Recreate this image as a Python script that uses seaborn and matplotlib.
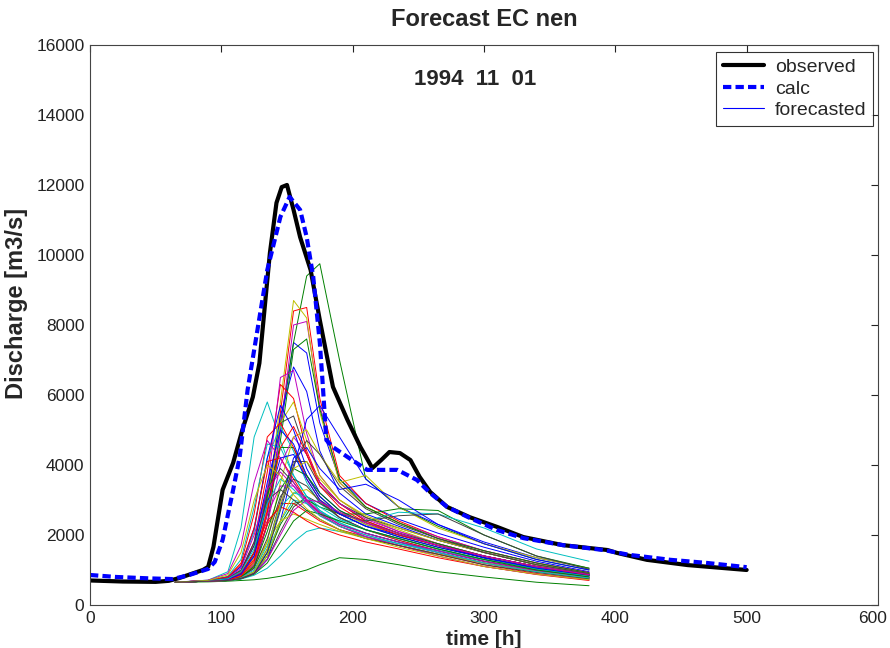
import numpy as np
import pandas as pd
import seaborn as sns
import matplotlib.pyplot as plt
from matplotlib.lines import Line2D
from matplotlib.transforms import ScaledTranslation

# observed discharge
obs_time = [0, 25, 50, 60, 68, 86, 90, 94, 101, 109, 116, 124, 129, 137, 142, 146, 150,
            155, 160, 168, 175, 185, 196, 206, 215, 222, 228, 236, 244, 251, 259, 272,
            289, 310, 330, 360, 394, 401, 424, 455, 500]
obs_flow = [700, 670, 660, 690, 770, 1000, 1090, 1660, 3290, 4060, 5000, 5940, 6910, 10060,
            11490, 11940, 12000, 11290, 10510, 9570, 8140, 6230, 5290, 4510, 3910, 4150,
            4370, 4340, 4140, 3660, 3230, 2800, 2510, 2230, 1940, 1710, 1570, 1490, 1290,
            1140, 1000]

# calculated discharge
calc_time = [0, 20, 45, 63, 75, 90, 95, 101, 109, 114, 120, 135, 145, 152, 160, 165, 170,
             175, 177, 180, 185, 196, 211, 234, 249, 259, 272, 289, 310, 330, 360, 391,
             411, 442, 470, 500]
calc_flow = [857, 800, 760, 740, 850, 1030, 1230, 1860, 3290, 4230, 6140, 9570, 11090,
             11660, 11290, 10510, 9370, 7490, 6430, 4710, 4510, 4230, 3860, 3860, 3570,
             3200, 2800, 2490, 2140, 1910, 1710, 1570, 1430, 1290, 1200, 1080]

# ensemble forecasts, all on the same time steps
fc_time = [65, 90, 105, 115, 125, 135, 145, 155, 165, 175, 190, 210, 235, 265, 300, 340, 380]

members_blue = [
    [650, 680, 720, 820, 1200, 2600, 5000, 7500, 7200, 5200, 3600, 2900, 2450, 2050, 1650, 1250, 950],
    [650, 680, 720, 850, 1400, 3000, 5400, 6800, 6100, 4400, 3200, 2600, 2250, 1850, 1500, 1150, 900],
    [650, 680, 700, 750, 900, 1300, 2400, 3900, 5300, 5700, 4800, 3600, 2800, 2300, 1800, 1350, 1050],
    [650, 700, 800, 1100, 2200, 4200, 5700, 5000, 3900, 3200, 2700, 2300, 2000, 1700, 1350, 1050, 850],
    [650, 680, 700, 760, 900, 1500, 2800, 4200, 4500, 3900, 3300, 3450, 3000, 2300, 1750, 1300, 1000],
    [650, 690, 750, 950, 1700, 3500, 5000, 4600, 3700, 3100, 2600, 2250, 1950, 1650, 1350, 1050, 850],
    [650, 680, 730, 880, 1400, 2900, 4200, 4300, 3600, 3000, 2600, 2250, 2000, 1700, 1400, 1100, 870],
]
members_green = [
    [650, 680, 700, 780, 1500, 3200, 5200, 7500, 9400, 9750, 7000, 3600, 2800, 2250, 1750, 1300, 1000],
    [650, 680, 700, 780, 1100, 2300, 4700, 7300, 7600, 5600, 3600, 2800, 2350, 1900, 1550, 1200, 920],
    [650, 680, 740, 900, 1500, 3100, 4500, 4500, 3700, 3100, 2600, 2250, 1950, 1650, 1350, 1050, 850],
    [650, 680, 700, 750, 900, 1400, 2300, 2900, 3000, 2800, 2600, 2600, 2750, 2700, 2000, 1400, 1050],
    [650, 660, 680, 700, 720, 760, 820, 900, 1000, 1150, 1350, 1300, 1150, 950, 800, 650, 550],
    [650, 680, 700, 800, 1100, 2100, 3300, 3900, 3700, 3200, 2700, 2350, 2050, 1750, 1400, 1100, 860],
    [650, 680, 700, 750, 880, 1200, 1800, 2400, 2700, 2600, 2400, 2150, 1900, 1600, 1300, 1000, 800],
]
members_red = [
    [650, 680, 700, 800, 1150, 2600, 5500, 8400, 8500, 5900, 3700, 2900, 2400, 1950, 1550, 1200, 920],
    [650, 690, 750, 950, 1800, 3800, 6300, 5900, 4400, 3500, 2900, 2400, 2050, 1700, 1350, 1050, 840],
    [650, 700, 800, 1200, 2600, 4800, 5200, 4500, 3600, 3000, 2500, 2150, 1850, 1550, 1250, 1000, 800],
    [650, 680, 720, 860, 1300, 2300, 2900, 2900, 2650, 2400, 2150, 1950, 1700, 1450, 1200, 950, 760],
    [650, 700, 800, 1150, 2200, 4100, 4200, 3600, 3000, 2600, 2250, 1950, 1700, 1450, 1150, 900, 730],
    [650, 690, 750, 920, 1500, 2400, 2800, 2650, 2400, 2200, 2000, 1800, 1600, 1350, 1100, 870, 700],
    [650, 680, 710, 820, 1250, 2700, 4500, 5100, 4300, 3400, 2800, 2350, 2000, 1700, 1400, 1100, 860],
]
members_cyan = [
    [650, 710, 950, 2200, 4800, 5800, 4700, 3700, 3100, 2700, 2350, 2050, 1800, 1500, 1200, 950, 780],
    [650, 690, 780, 1100, 2100, 4200, 5100, 4400, 3500, 2900, 2500, 2150, 1850, 1550, 1250, 1000, 800],
    [650, 700, 820, 1300, 2800, 4600, 4500, 3700, 3100, 2700, 2350, 2050, 1800, 1500, 1200, 960, 780],
    [650, 680, 700, 760, 950, 1500, 2400, 3000, 2900, 2650, 2400, 2400, 2650, 2600, 2200, 1600, 1250],
    [650, 680, 700, 740, 850, 1050, 1400, 1800, 2100, 2200, 2100, 1950, 1750, 1550, 1300, 1050, 860],
    [650, 680, 700, 780, 1000, 1700, 2800, 3200, 3100, 2800, 2450, 2150, 1900, 1600, 1300, 1020, 820],
    [650, 690, 750, 950, 1600, 2900, 3600, 3300, 2900, 2550, 2250, 2000, 1750, 1500, 1200, 950, 770],
]
members_magenta = [
    [650, 680, 700, 780, 1050, 2300, 5000, 8000, 8100, 5700, 3500, 2800, 2350, 1950, 1550, 1200, 930],
    [650, 690, 740, 900, 1500, 3300, 6500, 6700, 4900, 3700, 3000, 2500, 2100, 1750, 1400, 1080, 860],
    [650, 680, 710, 800, 1150, 2300, 4000, 4800, 4300, 3500, 2900, 2450, 2100, 1750, 1400, 1100, 870],
    [650, 700, 780, 1050, 2000, 3300, 3800, 3400, 2900, 2550, 2250, 2000, 1750, 1500, 1200, 950, 760],
    [650, 680, 730, 880, 1400, 2600, 3400, 3400, 3000, 2650, 2300, 2050, 1800, 1550, 1250, 980, 790],
    [650, 710, 900, 1700, 3500, 4700, 4200, 3500, 2950, 2600, 2250, 1950, 1700, 1400, 1100, 880, 720],
    [650, 680, 700, 760, 900, 1300, 2000, 2700, 3000, 2950, 2650, 2350, 2050, 1700, 1400, 1100, 870],
]
members_yellow = [
    [650, 680, 710, 820, 1200, 2800, 5800, 8700, 8200, 5500, 3500, 2800, 2350, 1900, 1500, 1150, 900],
    [650, 680, 730, 850, 1350, 2900, 5200, 5800, 4700, 3700, 3000, 2500, 2150, 1750, 1400, 1100, 870],
    [650, 680, 700, 760, 950, 1800, 3500, 4800, 5000, 4300, 3500, 3700, 2800, 2200, 1750, 1350, 1050],
    [650, 680, 700, 760, 900, 1400, 2400, 3200, 3300, 3000, 2650, 2300, 2000, 1700, 1400, 1100, 860],
    [650, 680, 700, 820, 1100, 1800, 2400, 2600, 2450, 2300, 2100, 1900, 1700, 1450, 1200, 950, 770],
    [650, 680, 700, 760, 950, 1600, 2900, 3900, 4100, 3600, 3000, 2550, 2200, 1850, 1500, 1150, 900],
    [650, 700, 860, 1500, 3000, 4000, 3700, 3150, 2750, 2450, 2150, 1900, 1650, 1400, 1100, 880, 720],
]
members_grey = [
    [650, 680, 730, 880, 1500, 3200, 5200, 5400, 4300, 3500, 2900, 2400, 2050, 1700, 1350, 1050, 840],
    [650, 680, 700, 760, 950, 1600, 3000, 4100, 4100, 3400, 2900, 2500, 2200, 1850, 1500, 1150, 900],
    [650, 700, 780, 1000, 1800, 3300, 3900, 3500, 3000, 2650, 2300, 2050, 1800, 1550, 1250, 980, 790],
    [650, 680, 700, 760, 900, 1300, 2100, 2800, 3100, 2900, 2600, 2400, 2550, 2600, 2000, 1400, 1020],
    [650, 680, 700, 800, 1050, 1900, 3100, 3600, 3400, 2950, 2500, 2150, 1900, 1600, 1300, 1030, 830],
    [650, 690, 760, 980, 1700, 3000, 3300, 3000, 2700, 2450, 2150, 1900, 1700, 1450, 1150, 930, 750],
    [650, 680, 700, 760, 900, 1500, 2700, 4000, 4700, 4300, 3400, 2750, 2300, 1900, 1500, 1150, 900],
]

# old matlab colour order
groups = [members_blue, members_green, members_red, members_cyan,
          members_magenta, members_yellow, members_grey]
group_colors = ['#0000ff', '#008000', '#ff0000', '#00bfbf', '#bf00bf', '#bfbf00', '#404040']

rows = []
palette = {}
for i in range(len(members_blue)):
    for members, col in zip(groups, group_colors):
        name = 'm%02d' % len(palette)
        palette[name] = col
        for t, q in zip(fc_time, members[i]):
            rows.append((name, t, q))
fc = pd.DataFrame(rows, columns=['member', 'time', 'flow'])

sns.set_style('white')
plt.rcParams['font.family'] = ['Liberation Sans', 'DejaVu Sans']

fig = plt.figure(figsize=(8.9, 6.48), dpi=100)
ax = fig.add_axes([0.1011, 0.0664, 0.8854, 0.8642])

sns.lineplot(data=fc, x='time', y='flow', hue='member', palette=palette,
             estimator=None, sort=False, legend=False, lw=0.7, ax=ax)
sns.lineplot(x=obs_time, y=obs_flow, color='black', lw=3, estimator=None, sort=False, ax=ax)
sns.lineplot(x=calc_time, y=calc_flow, color='#0000ff', lw=3, estimator=None, sort=False, ax=ax)
ax.lines[-1].set_linestyle((0, (2, 1)))

ax.set_xlim(0, 600)
ax.set_ylim(0, 16000)
ax.set_xticks(range(0, 601, 100))
ax.set_yticks(range(0, 16001, 2000))
ax.tick_params(direction='in', length=5, width=0.8, top=True, right=True,
               labelsize=12.5, colors='#222222', pad=4)
for sp in ax.spines.values():
    sp.set_visible(True)
    sp.set_color('#444444')
    sp.set_linewidth(0.8)

# keep the last x label inside the figure
last = ax.get_xticklabels()[-1]
last.set_transform(last.get_transform() + ScaledTranslation(-0.05, 0, fig.dpi_scale_trans))

ax.set_title('Forecast EC nen', fontsize=17, fontweight='bold', pad=14)
ax.set_xlabel('time [h]', fontsize=15, fontweight='bold', labelpad=3)
ax.set_ylabel('Discharge [m3/s]', fontsize=17, fontweight='bold')
ax.yaxis.set_label_coords(-0.079, 0.539)
ax.text(0.4886, 0.9375, '1994  11  01', transform=ax.transAxes, ha='center', va='center',
        fontsize=16, fontweight='bold')

handles = [Line2D([], [], color='black', lw=3),
           Line2D([], [], color='#0000ff', lw=3, linestyle=(0, (2, 1))),
           Line2D([], [], color='#0000ff', lw=0.8)]
leg = ax.legend(handles, ['observed', 'calc', 'forecasted'], loc='upper right',
                bbox_to_anchor=(0.994, 0.988), fontsize=14, frameon=True, fancybox=False,
                handlelength=2.1, borderpad=0.35, labelspacing=0.2, handletextpad=0.55,
                borderaxespad=0)
leg.get_frame().set_edgecolor('black')
leg.get_frame().set_linewidth(0.8)

fig.savefig('out.png', dpi=100)
